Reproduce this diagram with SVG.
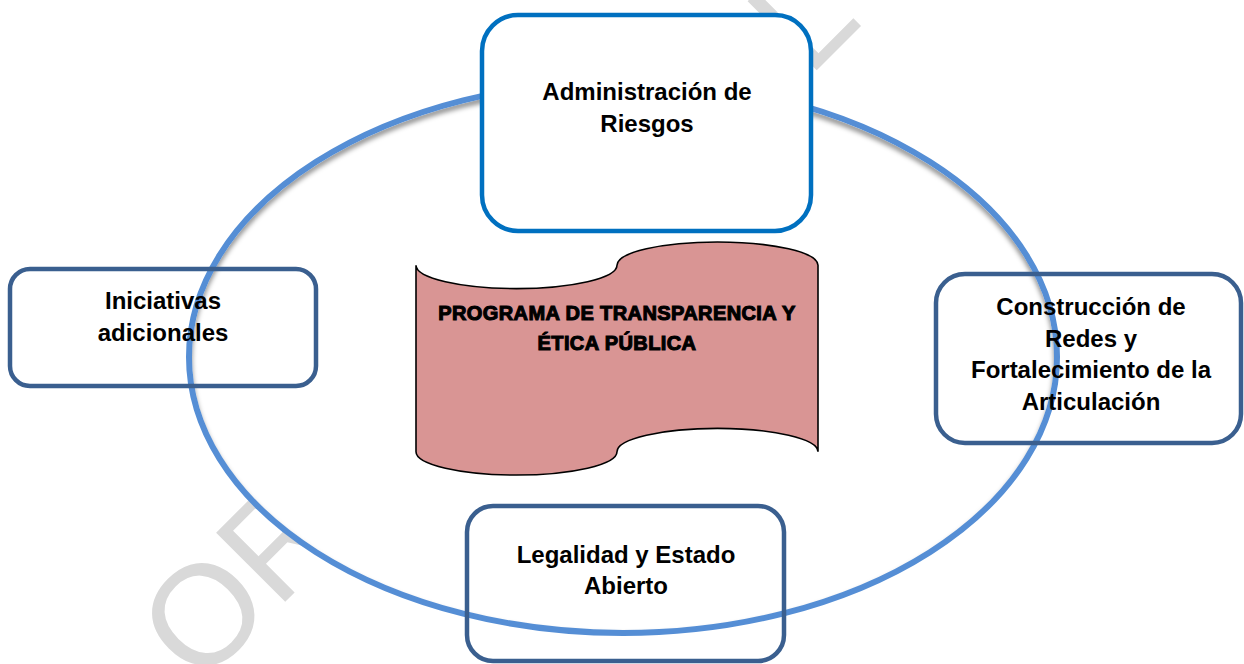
<svg xmlns="http://www.w3.org/2000/svg" width="1244" height="664" viewBox="0 0 1244 664">
  <style>
    .lbl { font-family: "Liberation Sans", Arial, sans-serif; font-weight: bold; font-size: 24px; fill: #000; text-anchor: middle; }
    .ttl { font-family: "Liberation Sans", Arial, sans-serif; font-weight: bold; font-size: 20px; fill: #000; stroke: #000; stroke-width: 1.1; letter-spacing: 0.4px; text-anchor: middle; }
    .wm { font-family: "Liberation Sans", Arial, sans-serif; font-size: 142px; fill: #d9d9d9; }
    .box { fill: none; stroke: #3a5f8f; stroke-width: 4.5; }
  </style>
  <defs>
    <clipPath id="ellIn">
      <ellipse cx="623" cy="357" rx="431" ry="273"/>
    </clipPath>
    <filter id="blur" x="-10%" y="-10%" width="120%" height="120%">
      <feGaussianBlur stdDeviation="2.5"/>
    </filter>
  </defs>
  <rect width="1244" height="664" fill="#fff"/>

  <g id="watermark" transform="translate(199,688) rotate(-45)">
    <text class="wm" x="0" y="0">OR</text>
    <text class="wm" x="862" y="0">L</text>
  </g>

  <g id="connectors">
    <ellipse cx="623" cy="357" rx="434" ry="276" fill="#fff" stroke="none"/>
    <g clip-path="url(#ellIn)">
      <ellipse cx="623" cy="361" rx="434" ry="276" fill="none" stroke="#000" stroke-opacity="0.45" stroke-width="6" filter="url(#blur)"/>
    </g>
    <ellipse cx="623" cy="357" rx="434" ry="276" fill="none" stroke="#558ed5" stroke-width="6"/>
  </g>

  <g id="programa">
    <path d="M416,265.3 A100.5,23.3 0 0 0 617,265.3 A100.5,23.3 0 0 1 818,265.3 L818,451.7 A100.5,23.3 0 0 0 617,451.7 A100.5,23.3 0 0 1 416,451.7 Z" fill="#d99594" stroke="#000" stroke-width="1.6"/>
    <text class="ttl" x="617" y="320">PROGRAMA DE TRANSPARENCIA Y</text>
    <text class="ttl" x="617" y="350">ÉTICA PÚBLICA</text>
  </g>

  <g id="riesgos">
    <rect x="482" y="15" width="329" height="216" rx="36" fill="#fff" stroke="#0070c0" stroke-width="4.5"/>
    <text class="lbl" x="647" y="100">Administración de</text>
    <text class="lbl" x="647" y="132">Riesgos</text>
  </g>

  <g id="iniciativas">
    <rect class="box" x="10" y="269" width="306" height="117" rx="20"/>
    <text class="lbl" x="163" y="309">Iniciativas</text>
    <text class="lbl" x="163" y="341">adicionales</text>
  </g>

  <g id="redes">
    <rect class="box" x="936" y="274" width="305" height="169" rx="29"/>
    <text class="lbl" x="1091" y="315">Construcción de</text>
    <text class="lbl" x="1091" y="347">Redes y</text>
    <text class="lbl" x="1091" y="378">Fortalecimiento de la</text>
    <text class="lbl" x="1091" y="410">Articulación</text>
  </g>

  <g id="legalidad">
    <rect class="box" x="467" y="506" width="317" height="155" rx="26"/>
    <text class="lbl" x="626" y="563">Legalidad y Estado</text>
    <text class="lbl" x="626" y="594">Abierto</text>
  </g>
</svg>
